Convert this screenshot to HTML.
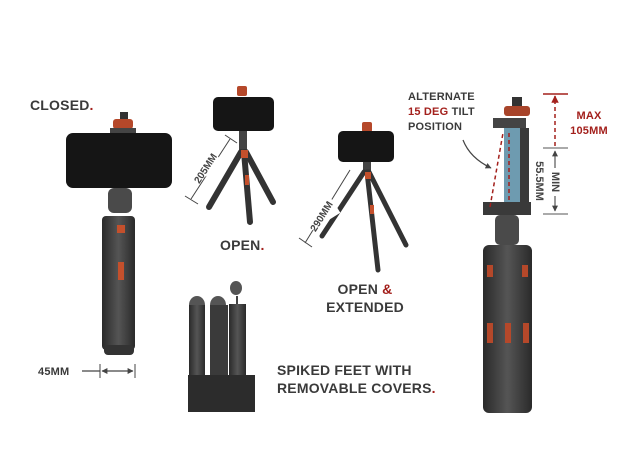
<!DOCTYPE html>
<html><head><meta charset="utf-8"><style>
body{margin:0;background:#fff;width:628px;height:472px;overflow:hidden;position:relative;font-family:"Liberation Sans",sans-serif}
.t{position:absolute;font-weight:bold;color:#3a3a3a;font-size:14px;letter-spacing:.2px;line-height:18px}
.r{color:#a3201c}
svg{position:absolute;left:0;top:0}
</style></head><body>
<svg width="628" height="472" viewBox="0 0 628 472">
<defs>
<linearGradient id="g" x1="0" x2="1"><stop offset="0" stop-color="#2a2a2a"/><stop offset=".5" stop-color="#555"/><stop offset="1" stop-color="#2a2a2a"/></linearGradient>
<marker id="a" viewBox="0 0 10 10" refX="9" refY="5" markerWidth="5" markerHeight="5" orient="auto-start-reverse"><path d="M0,0L10,5L0,10z" fill="#444"/></marker>
<marker id="ar" viewBox="0 0 10 10" refX="9" refY="5" markerWidth="5" markerHeight="5" orient="auto-start-reverse"><path d="M0,0L10,5L0,10z" fill="#a3201c"/></marker>
</defs>
<!-- CLOSED -->
<rect x="120" y="112" width="8" height="8" fill="#333"/>
<rect x="113" y="119" width="20" height="10" rx="3" fill="#b5482a"/>
<rect x="110" y="128" width="26" height="10" fill="#444"/>
<rect x="66" y="133" width="106" height="55" rx="7" fill="#151515"/>
<rect x="108" y="188" width="24" height="25" rx="6" fill="#4a4a4a"/>
<rect x="102" y="216" width="33" height="134" rx="4" fill="url(#g)"/>
<rect x="117" y="225" width="8" height="8" fill="#c4502c"/>
<rect x="118" y="262" width="6" height="18" fill="#c4502c"/>
<rect x="104" y="345" width="30" height="10" rx="4" fill="#333"/>
<line x1="82" y1="371" x2="100" y2="371" stroke="#444" stroke-width="1.2"/>
<line x1="100" y1="364" x2="100" y2="378" stroke="#444"/><line x1="135" y1="364" x2="135" y2="378" stroke="#444"/>
<line x1="102" y1="371" x2="133" y2="371" stroke="#444" stroke-width="1.2" marker-start="url(#a)" marker-end="url(#a)"/>
<!-- OPEN -->
<rect x="237" y="86" width="10" height="10" rx="2" fill="#b5482a"/>
<rect x="213" y="97" width="61" height="34" rx="5" fill="#151515"/>
<rect x="239" y="131" width="8" height="20" fill="#444"/>
<g stroke="#333" stroke-width="6" stroke-linecap="round">
<line x1="241" y1="152" x2="209" y2="207"/><line x1="246" y1="152" x2="273" y2="202"/><line x1="244" y1="152" x2="250" y2="222"/></g>
<rect x="241" y="150" width="7" height="8" fill="#c4502c"/><rect x="245" y="175" width="4" height="10" fill="#c4502c"/>
<line x1="191" y1="199" x2="230" y2="139" stroke="#444"/>
<line x1="185" y1="196" x2="198" y2="204" stroke="#444"/><line x1="225" y1="135" x2="237" y2="143" stroke="#444"/>
<line x1="195" y1="195" x2="229" y2="143" stroke="#444" stroke-width="0" />
<!-- OPEN EXTENDED -->
<rect x="362" y="122" width="10" height="10" rx="2" fill="#b5482a"/>
<rect x="338" y="131" width="56" height="31" rx="5" fill="#151515"/>
<rect x="363" y="162" width="8" height="10" fill="#444"/>
<g stroke="#333" stroke-width="5" stroke-linecap="round">
<line x1="364" y1="172" x2="322" y2="236"/><line x1="369" y1="172" x2="406" y2="245"/><line x1="367" y1="172" x2="378" y2="270"/></g>
<rect x="365" y="172" width="6" height="7" fill="#c4502c"/><rect x="370" y="205" width="4" height="9" fill="#c4502c"/>
<line x1="305" y1="243" x2="350" y2="170" stroke="#444"/>
<line x1="299" y1="238" x2="312" y2="247" stroke="#444"/>
<!-- SPIKED FEET -->
<ellipse cx="197" cy="305" rx="8" ry="9" fill="#555"/><ellipse cx="218" cy="305" rx="8" ry="9" fill="#555"/><ellipse cx="236" cy="288" rx="6" ry="7" fill="#555"/>
<rect x="236" y="296" width="2" height="8" fill="#444"/>
<rect x="189" y="305" width="16" height="107" fill="url(#g)"/><rect x="210" y="305" width="18" height="107" fill="#3a3a3a"/><rect x="229" y="304" width="17" height="108" fill="url(#g)"/>
<rect x="188" y="375" width="67" height="37" fill="#2c2c2c"/>
<!-- RIGHT -->
<rect x="512" y="97" width="10" height="10" fill="#333"/>
<rect x="504" y="106" width="26" height="10" rx="3" fill="#a8442a"/>
<rect x="493" y="118" width="33" height="10" fill="#444"/>
<rect x="504" y="128" width="16" height="80" fill="#6e9bb0"/>
<rect x="520" y="128" width="9" height="80" fill="#3a3a3a"/>
<rect x="483" y="202" width="48" height="13" fill="#3a3a3a"/>
<rect x="495" y="215" width="24" height="30" rx="5" fill="#4a4a4a"/>
<rect x="483" y="245" width="49" height="168" rx="6" fill="url(#g)"/>
<rect x="487" y="265" width="6" height="12" fill="#b5482a"/><rect x="522" y="265" width="6" height="12" fill="#b5482a"/>
<rect x="487" y="323" width="6" height="20" fill="#b5482a"/><rect x="505" y="323" width="6" height="20" fill="#b5482a"/><rect x="523" y="323" width="6" height="20" fill="#b5482a"/>
<line x1="490" y1="207" x2="503" y2="133" stroke="#a3201c" stroke-width="1.5" stroke-dasharray="4,3"/>
<line x1="509" y1="200" x2="509" y2="130" stroke="#a3201c" stroke-width="1.5" stroke-dasharray="4,3"/>
<path d="M463,140 Q470,158 491,168" fill="none" stroke="#444" stroke-width="1.2" marker-end="url(#a)"/>
<line x1="543" y1="94" x2="568" y2="94" stroke="#a3201c" stroke-width="1.5"/>
<line x1="555" y1="146" x2="555" y2="96" stroke="#a3201c" stroke-width="1.5" stroke-dasharray="4,3" marker-end="url(#ar)"/>
<line x1="543" y1="148" x2="568" y2="148" stroke="#555"/><line x1="543" y1="214" x2="568" y2="214" stroke="#555"/>
<line x1="555" y1="151" x2="555" y2="211" stroke="#555" stroke-width="1.2" marker-start="url(#a)" marker-end="url(#a)"/>
<text x="536" y="181" transform="rotate(90 536 181)" text-anchor="middle" font-family="Liberation Sans" font-weight="bold" font-size="11" fill="#444">55.5MM</text>
<rect x="548" y="168" width="14" height="28" fill="#fff"/>
<text x="555" y="182" transform="rotate(90 555 182)" text-anchor="middle" dominant-baseline="middle" font-family="Liberation Sans" font-weight="bold" font-size="11" fill="#444">MIN</text>
<rect x="196" y="150" width="16" height="36" fill="#fff" transform="rotate(57 204 168)"/>
<text x="205" y="172" transform="rotate(-57 205 168)" text-anchor="middle" font-family="Liberation Sans" font-weight="bold" font-size="10" fill="#444">205MM</text>
<rect x="312" y="197" width="16" height="38" fill="#fff" transform="rotate(58 320 216)"/>
<text x="321" y="220" transform="rotate(-58 321 216)" text-anchor="middle" font-family="Liberation Sans" font-weight="bold" font-size="10" fill="#444">290MM</text>
</svg>
<div class="t" style="left:30px;top:96px">CLOSED<span class="r">.</span></div>
<div class="t" style="left:38px;top:363px;font-size:11px">45MM</div>
<div class="t" style="left:220px;top:236px">OPEN<span class="r">.</span></div>
<div class="t" style="left:324px;top:280px;width:82px;text-align:center">OPEN <span class="r">&amp;</span><br>EXTENDED</div>
<div class="t" style="left:277px;top:361px">SPIKED FEET WITH<br>REMOVABLE COVERS<span class="r">.</span></div>
<div class="t" style="left:408px;top:90px;font-size:11px;line-height:15px">ALTERNATE<br><span class="r">15 DEG</span> TILT<br>POSITION</div>
<div class="t r" style="left:564px;top:109px;font-size:11px;line-height:15px;text-align:center;width:50px">MAX<br>105MM</div>
</body></html>
